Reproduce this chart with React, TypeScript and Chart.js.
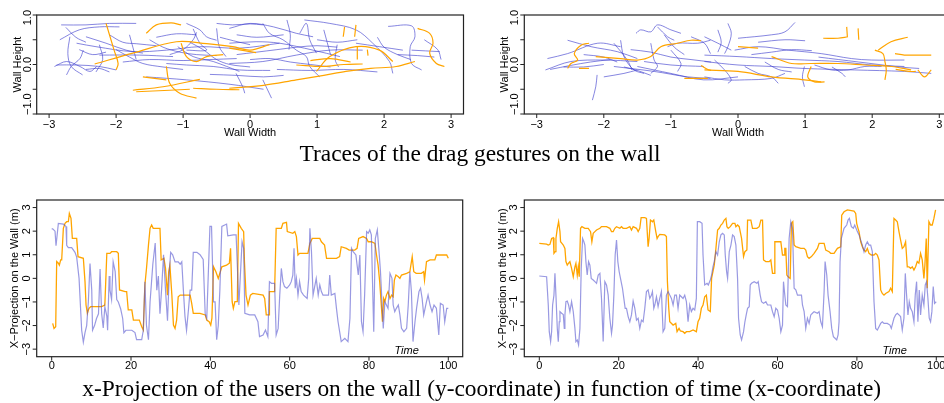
import { useEffect, useRef } from "react";
import { Chart, registerables } from "chart.js";
Chart.register(...registerables);

type Pt = [number, number];

// ---------- Top panels: drag gesture traces (Wall Width, Wall Height) ----------
const wallAOrange: Pt[][] = [
  [[-2.15, 0.83], [-2.03, 0.29], [-1.97, 0.02], [-2.0, -0.11]],
  [[-2.32, 0.01], [-1.75, 0.23], [-1.1, 0.46], [-0.65, 0.42], [-0.26, 0.36], [0.0, 0.29], [0.29, 0.4]],
  [[-1.75, -0.52], [-1.3, -0.45], [-0.75, -0.3]],
  [[-1.6, -0.25], [-1.25, -0.31]],
  [[-0.85, -0.48], [-0.5, -0.5], [-0.16, -0.51]],
  [[-0.31, -0.48], [0.2, -0.42], [0.69, -0.31], [1.1, -0.22], [1.43, -0.14], [1.8, -0.08], [2.18, -0.04], [2.46, 0.06]],
  [[-1.55, 0.63], [-1.4, 0.8], [-1.18, 0.84], [-1.03, 0.8]],
  [[-1.25, -0.04], [-1.2, -0.38], [-1.05, -0.58], [-0.8, -0.68]],
  [[-1.03, 0.43], [-0.95, 0.16], [-0.8, 0.06], [-0.65, 0.16], [-0.4, 0.2]],
  [[2.5, 0.73], [2.68, 0.63], [2.73, 0.43], [2.68, 0.23], [2.78, 0.02], [2.9, -0.04]],
  [[1.41, 0.76], [1.39, 0.56]],
  [[1.58, 0.8], [1.56, 0.56]],
  [[0.69, -0.01], [1.09, -0.04], [1.4, 0.0], [1.68, 0.01]],
  [[0.99, -0.14], [1.19, 0.16], [1.58, 0.36], [1.93, 0.29], [2.13, 0.06]],
  [[-0.31, 0.33], [0.09, 0.24]],
  [[0.9, 0.08], [1.2, 0.12], [1.5, 0.05]],
  [[-1.7, -0.55], [-1.2, -0.52], [-0.9, -0.5]],
  [[1.6, 0.36], [1.6, 0.1]],
  [[1.75, 0.3], [1.76, 0.18]],
];

const wallABlue: Pt[][] = [
  [[-2.82, 0.8], [-2.45, 0.8], [-2.1, 0.83], [-1.7, 0.83]],
  [[-2.84, 0.5], [-2.55, 0.7], [-2.25, 0.76], [-1.95, 0.76]],
  [[-2.69, 0.56], [-2.72, 0.22], [-2.67, -0.04], [-2.5, -0.21]],
  [[-2.89, -0.01], [-2.59, -0.01], [-2.25, -0.04], [-2.0, -0.11]],
  [[-2.59, 0.43], [-2.3, 0.36], [-1.75, 0.26], [-1.25, 0.29], [-0.75, 0.36], [-0.16, 0.33], [0.44, 0.43]],
  [[-2.45, 0.56], [-2.15, 0.43], [-1.85, 0.29], [-1.6, 0.23]],
  [[-1.55, -0.25], [-0.95, -0.31], [-0.3, -0.4], [0.2, -0.5]],
  [[-2.45, -0.1], [-2.25, -0.08], [-2.1, -0.15]],
  [[-0.95, 0.83], [-0.75, 0.7], [-0.65, 0.56], [-0.5, 0.49]],
  [[-0.5, 0.83], [-0.26, 0.8], [0.0, 0.82], [0.19, 0.8]],
  [[-0.5, 0.73], [-0.46, 0.36], [-0.36, 0.16]],
  [[-1.25, 0.02], [-0.95, -0.01], [-0.55, -0.04], [-0.16, -0.11], [0.3, -0.12]],
  [[-2.25, 0.19], [-1.65, 0.19], [-1.15, 0.16]],
  [[-0.85, 0.72], [-0.75, 0.43], [-0.65, 0.29], [-0.95, 0.29]],
  [[-1.08, 0.36], [-0.85, 0.16], [-0.55, 0.06], [-0.16, -0.14]],
  [[-0.31, 0.73], [0.0, 0.83], [0.35, 0.76], [0.69, 0.63], [0.94, 0.56]],
  [[0.19, 0.83], [0.29, 0.63], [0.49, 0.5], [0.69, 0.29], [0.84, 0.16], [0.89, -0.04], [1.04, -0.25]],
  [[0.81, 0.9], [1.19, 0.83], [1.58, 0.7], [1.83, 0.43], [2.08, 0.06], [2.13, -0.18]],
  [[1.58, 0.43], [1.93, 0.36], [2.28, 0.29]],
  [[2.06, 0.77], [2.41, 0.78], [2.46, 0.56], [2.39, 0.36], [2.41, 0.02], [2.56, -0.11]],
  [[2.41, 0.29], [2.83, 0.26]],
  [[-0.31, 0.02], [0.19, 0.06], [0.69, 0.19], [1.19, 0.29], [1.68, 0.29]],
  [[-0.31, 0.43], [0.09, 0.46], [0.44, 0.43], [0.94, 0.29], [1.34, 0.16]],
  [[-0.21, -0.18], [-0.11, -0.45], [-0.08, -0.58]],
  [[0.19, -0.31], [0.32, -0.68]],
  [[0.74, 0.63], [0.84, 0.83], [0.89, 0.5], [0.99, 0.23]],
  [[1.3, 0.4], [1.27, 0.1], [1.32, -0.05]],
  [[-2.92, -0.04], [-2.74, 0.06], [-2.54, -0.04], [-2.39, -0.14], [-2.29, -0.04]],
  [[-2.74, -0.21], [-2.67, -0.04], [-2.54, 0.12], [-2.49, 0.29]],
  [[-1.4, 0.55], [-1.1, 0.62], [-0.8, 0.6]],
  [[-1.9, 0.05], [-1.5, 0.1], [-1.0, 0.08], [-0.6, 0.1], [-0.2, 0.12]],
  [[0.4, -0.1], [0.9, -0.12], [1.4, -0.1], [1.9, -0.15]],
  [[2.2, 0.2], [2.5, 0.18], [2.75, 0.15]],
  [[-0.2, 0.6], [0.1, 0.55], [0.5, 0.6]],
  [[-1.8, 0.6], [-1.75, 0.35], [-1.7, 0.1]],
  [[-2.3, -0.15], [-2.2, 0.1], [-2.25, 0.4]],
  [[1.0, 0.5], [1.3, 0.45], [1.6, 0.5]],
  [[-2.75, 0.75], [-2.6, 0.55], [-2.45, 0.45]],
  [[-2.1, 0.6], [-1.9, 0.45], [-1.7, 0.42], [-1.4, 0.38]],
  [[-1.5, 0.5], [-1.3, 0.35], [-1.05, 0.25], [-0.8, 0.2], [-0.5, 0.18]],
  [[-0.9, 0.45], [-0.7, 0.3], [-0.5, 0.1], [-0.3, 0.0], [0.0, -0.05]],
  [[-0.2, 0.2], [0.1, 0.25], [0.4, 0.3], [0.7, 0.35], [1.0, 0.38], [1.3, 0.35]],
  [[0.0, 0.1], [0.3, 0.12], [0.6, 0.05], [0.9, 0.0], [1.2, -0.05]],
  [[0.55, 0.9], [0.6, 0.6], [0.58, 0.3]],
  [[1.1, 0.7], [1.15, 0.45], [1.2, 0.2]],
  [[1.9, 0.55], [2.0, 0.35], [2.2, 0.2], [2.4, 0.1]],
  [[-2.0, 0.3], [-1.8, 0.15], [-1.6, 0.02], [-1.3, -0.05], [-1.0, -0.1]],
  [[-1.2, 0.2], [-1.0, 0.3], [-0.85, 0.5], [-0.8, 0.65]],
  [[-0.6, -0.2], [-0.2, -0.22], [0.2, -0.25], [0.5, -0.22]],
  [[2.6, 0.5], [2.8, 0.3], [2.85, 0.1]],
  [[-2.55, 0.3], [-2.35, 0.2], [-2.15, 0.25]],
  [[-0.45, 0.55], [-0.25, 0.48], [0.0, 0.4]],
];

const wallBOrange: Pt[][] = [
  [[-2.22, 0.43], [-2.34, 0.39], [-2.44, 0.22], [-2.39, 0.09], [-2.49, 0.02], [-2.54, -0.08]],
  [[-2.37, -0.08], [-2.22, -0.08]],
  [[-2.12, 0.16], [-1.75, 0.12], [-1.5, 0.09], [-1.3, 0.16], [-1.15, 0.36], [-0.9, 0.43], [-0.7, 0.49], [-0.55, 0.48]],
  [[-0.55, -0.02], [-0.45, -0.1], [-0.4, -0.12]],
  [[-0.8, -0.28], [-0.45, -0.28]],
  [[-0.5, -0.11], [0.0, -0.14], [0.5, -0.25], [0.99, -0.31], [1.24, -0.35]],
  [[0.0, 0.36], [0.3, 0.33]],
  [[0.5, 0.16], [0.8, 0.02], [1.09, 0.02], [1.49, 0.02], [1.89, -0.01], [2.29, -0.04], [2.58, -0.11]],
  [[1.09, -0.04], [1.04, -0.25], [1.14, -0.35], [1.29, -0.35]],
  [[1.27, 0.53], [1.49, 0.53], [1.64, 0.56]],
  [[1.62, 0.76], [1.63, 0.56]],
  [[1.79, 0.73], [1.8, 0.5]],
  [[2.09, 0.29], [2.28, 0.46], [2.53, 0.55]],
  [[2.04, 0.29], [2.16, 0.22], [2.19, 0.06], [2.21, -0.11], [2.19, -0.31]],
  [[2.34, 0.22], [2.48, 0.19], [2.68, 0.19], [2.88, 0.19]],
  [[2.68, -0.11], [2.78, -0.25], [2.88, -0.11]],
  [[2.35, -0.1], [2.55, -0.14], [2.65, -0.14]],
];

const wallBBlue: Pt[][] = [
  [[-2.84, 0.12], [-2.54, 0.22], [-2.09, 0.43], [-1.75, 0.36]],
  [[-2.87, -0.11], [-2.49, 0.06], [-2.0, 0.09], [-1.5, 0.06]],
  [[-2.54, 0.49], [-2.19, 0.36], [-1.8, 0.26], [-1.5, 0.12]],
  [[-2.1, -0.21], [-2.12, -0.45], [-2.17, -0.72]],
  [[-2.0, -0.25], [-1.7, -0.18], [-1.5, -0.11]],
  [[-1.85, 0.43], [-1.65, 0.09], [-1.58, -0.11]],
  [[-1.75, 0.49], [-1.7, 0.16], [-1.55, -0.11], [-1.4, -0.18]],
  [[-1.52, 0.63], [-1.45, 0.7], [-1.3, 0.66], [-1.2, 0.8], [-1.0, 0.7], [-0.85, 0.63]],
  [[-1.2, 0.76], [-1.05, 0.56], [-0.95, 0.49]],
  [[-1.3, 0.43], [-1.25, 0.09], [-1.2, -0.04], [-1.3, -0.18]],
  [[-1.05, 0.36], [-0.9, 0.43], [-0.6, 0.43], [-0.41, 0.49]],
  [[-1.5, -0.04], [-1.0, -0.18], [-0.51, -0.31], [0.0, -0.25]],
  [[-1.85, -0.04], [-1.25, -0.14], [-0.75, -0.25], [-0.41, -0.28]],
  [[-1.0, 0.29], [-0.85, 0.02], [-0.9, -0.14]],
  [[-0.7, 0.56], [-0.5, 0.43], [-0.41, 0.22]],
  [[-1.4, 0.06], [-1.0, -0.01], [-0.51, -0.04]],
  [[-0.15, 0.83], [-0.1, 0.63], [-0.15, 0.36], [-0.2, 0.22]],
  [[0.0, 0.53], [0.5, 0.6], [0.7, 0.66], [0.85, 0.85]],
  [[-0.05, 0.29], [0.3, 0.36], [0.75, 0.29], [1.24, 0.22], [1.69, 0.12], [1.99, 0.09], [2.48, 0.09]],
  [[-0.5, 0.19], [0.0, 0.16], [0.5, 0.12], [0.99, 0.09], [1.49, 0.06], [1.99, -0.01], [2.48, -0.04]],
  [[-0.5, 0.06], [0.0, -0.01], [0.5, -0.04], [0.99, -0.08], [1.74, -0.11], [2.48, -0.14], [2.88, -0.18]],
  [[0.99, -0.04], [0.96, -0.25], [0.99, -0.45]],
  [[1.14, -0.01], [1.39, -0.11], [1.64, -0.11], [1.89, -0.04], [2.14, -0.04]],
  [[-0.5, -0.25], [-0.2, -0.31], [0.1, -0.31], [0.5, -0.28], [0.7, -0.18]],
  [[0.1, -0.04], [0.3, -0.18], [0.5, -0.25], [0.6, -0.38]],
  [[-0.5, 0.56], [-0.3, 0.43], [-0.1, 0.29]],
  [[-0.35, 0.09], [-0.2, -0.11], [-0.1, -0.31], [-0.15, -0.38]],
  [[-2.6, -0.05], [-2.3, -0.05], [-2.0, 0.0]],
  [[0.3, 0.45], [0.7, 0.5], [1.0, 0.48]],
  [[-2.8, -0.1], [-2.5, -0.02], [-2.2, 0.05], [-1.9, 0.1]],
  [[-1.6, 0.3], [-1.3, 0.25], [-1.0, 0.15], [-0.7, 0.1], [-0.4, 0.05]],
  [[-1.1, 0.6], [-0.95, 0.35], [-0.8, 0.2]],
  [[-0.3, 0.7], [-0.25, 0.45], [-0.3, 0.25]],
  [[0.2, 0.2], [0.5, 0.25], [0.8, 0.3], [1.1, 0.28]],
  [[1.2, 0.15], [1.5, 0.1], [1.8, 0.05], [2.1, 0.0], [2.4, -0.05], [2.7, -0.08]],
  [[1.4, -0.05], [1.55, -0.18], [1.6, -0.25]],
  [[-1.7, -0.05], [-1.5, -0.12], [-1.3, -0.22]],
  [[-2.3, 0.2], [-2.0, 0.15], [-1.8, 0.05]],
  [[0.4, 0.05], [0.6, -0.1], [0.8, -0.15]],
];

// ---------- Bottom panels: x-projection over time [time, metres] ----------
const timeA_Blue: Pt[] = [
  [0, 2.1], [0.25, 2.1], [0.84, 2.0], [1.09, 1.38], [1.68, 2.33], [2.94, 2.3], [3.61, 2.2], [3.78, 1.4], [4.2, 1.3], [5.04, 1.3], [5.88, 1.1], [6.3, 0.9], [6.9, 0], [7.56, -2.2], [7.98, -2.7], [8.4, -2.3], [8.82, -2.0], [9.24, -1.0], [9.66, 0.63], [10.1, -0.5], [10.3, -2.2], [10.8, -2.0], [11.3, -1.7], [11.8, -1.5], [12.2, 0.4], [12.6, -1.5], [13.0, -2.1], [13.4, -1.2], [13.9, -1.6], [14.1, -2.2], [14.5, 0.1], [14.7, -0.5], [15.1, -0.9], [15.5, 0.7], [16.0, 0.3], [16.4, -0.9], [16.8, -1.0], [17.4, -1.3], [17.9, -1.7], [18.2, -2.3], [18.7, -2.2], [20.2, -2.2], [21.0, -2.3], [21.4, -2.6], [22.7, -2.6], [23.1, -2.2], [23.5, -0.15], [23.9, -2.0], [24.4, -2.6], [24.8, -1.0], [25.5, 0.6], [26.1, 1.5], [26.5, -0.5], [26.9, 0.1], [27.3, -1.5], [27.7, -0.5], [28.2, 1.0], [28.7, -0.5], [29.2, -1.8], [29.7, 0.4], [30.0, 1.1], [30.5, 1.0], [31.1, 0.7], [31.9, 0.7], [32.4, 0.6], [32.8, 0.7], [33.2, -0.5], [33.6, -1.6], [34.0, -2.2], [34.5, -1.3], [34.9, -0.5], [35.3, -0.5], [35.7, 1.1], [36.6, 1.1], [37.4, 1.0], [38.2, 0.8], [38.7, -1.5], [39.1, -1.7], [39.9, 2.2], [40.3, 2.2], [40.8, -1.0], [41.2, -1.0], [41.6, -2.6], [42.0, -2.0], [42.4, -0.5], [42.9, 2.2], [44.1, 2.3], [44.4, 1.8], [45.8, 1.84], [46.5, 1.84], [47.2, -1.13], [48.0, 1.55], [48.4, 1.27], [48.7, -1.48], [49.9, -1.55], [51.2, -1.55], [51.6, -1.69], [52.0, -1.84], [52.4, -2.47], [53.3, -2.4], [53.9, -2.19], [54.5, -2.47], [54.9, -0.14], [55.4, -0.21], [56.2, -0.21], [56.6, -2.4], [57.1, -2.12], [57.5, -0.71], [57.9, 0.42], [58.3, -0.14], [58.7, -0.35], [59.3, -0.42], [60, -0.28], [60.4, -0.14], [60.8, 0.14], [61.1, 1.27], [61.4, -0.42], [61.7, 0], [62.1, -0.71], [62.5, -0.14], [62.9, -0.56], [63.5, -0.71], [64.4, -0.85], [64.8, 0], [65.1, 2.12], [65.5, 1.13], [65.9, -0.71], [66.7, 0], [67.2, -0.71], [67.6, -0.28], [68.0, -0.56], [68.4, -0.71], [69.8, -0.71], [70.1, 0.14], [70.5, -0.71], [71.4, -0.64], [71.8, -1.27], [72.2, -1.84], [73.0, -2.68], [73.9, -2.54], [74.7, -2.68], [75.2, -1.69], [75.6, 1.27], [76.0, 1.13], [76.7, 0.99], [77.3, 0.14], [77.7, 0.99], [78.1, -1.84], [78.5, -2.26], [78.9, -0.71], [79.4, 1.98], [79.8, 1.91], [80.2, 2.05], [80.6, 1.84], [81.2, -2.26], [81.6, 1.69], [82.1, 2.05], [82.6, 0.99], [82.9, 0.28], [83.6, -2.12], [84.0, -0.99], [84.4, -1.13], [84.8, -1.27], [85.3, 0.21], [85.8, 0], [86.1, -1.13], [86.5, -1.41], [86.9, -1.27], [87.4, -1.13], [87.8, -1.55], [88.2, -2.12], [88.8, -2.26], [89.5, -2.12], [89.9, -1.13], [90.3, 0.28], [90.7, -0.56], [91.1, -2.68], [91.6, -1.84], [92.0, -1.27], [92.6, -0.56], [93.0, -0.42], [93.4, -0.85], [93.8, -1.55], [94.5, -0.99], [94.9, -0.71], [95.4, -1.13], [95.9, -1.41], [96.4, -1.13], [97.0, -1.27], [97.6, -2.4], [98.0, -1.06], [98.7, -1.13], [99.1, -1.84], [99.6, -1.27], [100, -1.27],
];

const timeA_Orange: Pt[] = [
  [0.25, -1.91], [0.59, -2.12], [1.01, -2.05], [1.26, 0.71], [1.68, 0.64], [1.93, 0.56], [2.27, 0.78], [2.52, 0.78], [2.94, 2.12], [3.36, 2.33], [3.78, 2.4], [4.2, 2.4], [4.45, 2.75], [4.87, 2.54], [5.21, 1.69], [6.3, 1.69], [6.64, 0.92], [7.98, 0.85], [8.4, -0.14], [8.66, -1.13], [8.99, -1.48], [9.41, -1.27], [9.83, -1.2], [11.3, -1.2], [12.6, -1.2], [13.4, -1.13], [13.9, 1.06], [14.7, 1.06], [15.1, 1.13], [16.4, 1.13], [16.8, 1.06], [17.1, -0.49], [18.5, -0.56], [18.9, -0.56], [19.3, -1.34], [20.2, -1.34], [20.6, -1.77], [22.1, -1.77], [22.7, -2.05], [23.1, -2.19], [23.5, -0.28], [23.9, 0.42], [24.4, 1.41], [24.8, 2.12], [25.2, 2.26], [25.6, 2.12], [27.3, 2.12], [27.6, 0.78], [28.3, 0.85], [28.7, 0.42], [29.2, -0.71], [29.5, 0.28], [29.8, 0.56], [30.3, -0.71], [30.7, -1.98], [31.1, -2.12], [31.5, -1.77], [31.9, -0.78], [32.4, -0.71], [34.9, -0.71], [35.3, -1.06], [35.7, -1.48], [37.4, -1.48], [38.7, -1.55], [39.1, -1.77], [39.7, -1.84], [40.1, -1.98], [40.4, -1.69], [40.8, 0.49], [41.4, 0.28], [42.0, 0], [42.9, 0.49], [44.1, 0.56], [44.8, 0.64], [45.1, 1.27], [45.5, -0.99], [45.8, -1.27], [46.2, -0.99], [46.8, -0.99], [47.1, 2.33], [47.8, 2.12], [48.4, 1.98], [48.6, 0.71], [49.0, -0.71], [49.5, -1.13], [50.1, -0.71], [50.7, -0.64], [53.3, -0.71], [53.7, -0.85], [54.1, -1.55], [54.8, -1.55], [54.9, -0.56], [56.2, -0.56], [56.6, 2.12], [57.9, 2.12], [58.3, 2.33], [59.2, 2.37], [59.4, 1.98], [60.8, 1.91], [61.3, 1.98], [61.7, 1.77], [62.1, 0.99], [62.5, 1.06], [64.6, 1.06], [65.1, 1.48], [65.7, 1.69], [67.6, 1.69], [68.0, 1.55], [68.8, 1.41], [69.3, 0.85], [71.8, 0.85], [72.6, 0.92], [73.0, 1.34], [74.3, 1.27], [75.0, 1.2], [76.4, 1.2], [77.0, 1.27], [77.4, 1.69], [78.5, 1.77], [79.4, 1.69], [79.8, 1.55], [80.6, 1.55], [81.5, 1.48], [81.9, 0.99], [82.3, 0.56], [82.7, -0.14], [83.1, -1.13], [83.4, -1.84], [83.7, -0.85], [84.0, -0.99], [84.4, -0.71], [84.8, -0.56], [85.3, -0.85], [85.7, -0.71], [86.1, -0.78], [86.4, -0.07], [86.8, 0.14], [87.4, 0.07], [87.8, 0], [88.2, 0.14], [89.5, 0.21], [90.3, 0.28], [90.9, 0.92], [91.3, 0.28], [91.9, 0.21], [93.2, 0.21], [93.8, 0.28], [94.0, -0.07], [94.5, 0.71], [95.4, 0.78], [96.6, 0.78], [97.0, 0.99], [99.6, 0.99], [100, 0.85],
];

const timeB_Blue: Pt[] = [
  [0, 0.1], [1.84, 0.07], [2.01, -0.42], [2.26, -1.13], [2.51, -2.26], [2.85, -2.68], [3.1, -2.26], [3.35, -1.13], [3.69, -0.71], [3.94, 0.21], [4.19, -0.71], [4.53, -2.12], [4.78, -2.68], [5.03, -1.84], [5.2, -1.41], [5.62, -1.48], [6.04, -1.53], [6.29, -2.12], [6.45, -1.55], [6.71, -0.99], [7.04, -0.96], [7.38, -1.13], [7.71, -1.41], [8.13, -0.99], [8.55, -1.41], [8.97, -2.12], [9.22, -2.68], [9.56, -2.61], [9.89, -2.82], [10.23, -2.12], [10.56, 0.42], [10.9, 1.69], [11.23, 1.55], [11.48, 1.41], [11.74, 0.71], [12.07, 0.14], [12.41, 0.71], [12.74, 0.56], [13.08, 0], [13.58, -0.07], [14.0, -0.14], [14.42, -0.21], [14.84, 0.14], [15.26, 0.21], [15.67, -0.85], [16.09, -2.68], [16.51, -0.14], [16.93, -0.28], [17.35, -0.71], [17.77, -1.69], [18.19, -2.33], [18.44, -1.98], [18.78, -0.71], [19.11, 0.99], [19.45, 1.62], [19.78, 0.71], [20.12, 0.28], [20.45, 0], [20.95, -0.42], [21.29, -0.85], [21.63, -1.27], [21.96, -1.27], [22.38, -1.62], [22.8, -1.84], [23.22, -1.55], [23.64, -0.96], [24.06, -1.27], [24.48, -1.77], [24.9, -1.69], [25.31, -2.12], [25.73, -1.77], [26.15, -1.84], [26.57, -1.27], [26.99, -0.56], [27.41, -0.49], [27.83, -0.85], [28.25, -0.71], [28.5, -0.56], [28.84, -1.27], [29.09, -1.13], [29.51, -0.78], [29.92, -1.2], [30.34, -0.85], [30.76, -0.56], [31.18, -2.26], [31.6, -2.12], [32.02, -0.71], [32.44, -0.56], [32.86, -0.71], [33.28, -0.85], [33.7, -1.13], [34.12, -0.71], [34.54, -0.71], [34.95, -1.27], [35.37, -0.71], [35.79, -0.78], [36.21, -0.85], [36.63, -0.71], [37.05, -0.99], [37.47, -1.84], [37.89, -1.13], [38.31, -1.41], [38.73, -1.27], [39.15, -1.34], [39.56, -0.85], [39.82, 2.4], [40.4, 2.4], [40.99, 2.33], [41.24, 0.99], [41.66, -0.28], [42.25, -0.21], [42.57, -0.28], [43.07, -0.07], [43.4, 0.14], [43.74, 0.49], [44.07, 0.71], [44.49, 1.13], [44.91, 0.99], [45.33, 1.55], [45.75, 1.84], [46.17, 1.91], [46.59, 1.84], [46.84, 0.99], [47.18, 0.28], [47.43, 0], [47.85, 1.13], [48.27, 1.41], [48.68, 1.84], [49.1, 1.77], [49.52, 1.41], [49.94, 0], [50.19, -1.69], [50.61, -2.4], [50.95, -2.61], [51.45, -2.26], [51.79, -1.84], [52.12, -1.55], [52.46, -1.27], [52.88, -1.2], [53.13, -0.28], [53.46, -0.21], [54.13, -0.14], [54.8, -0.21], [55.14, -0.14], [55.64, -0.71], [55.98, -0.99], [56.48, -1.06], [57.07, -0.99], [57.49, -1.13], [58.32, -1.13], [58.74, -1.41], [59.16, -1.62], [59.58, -1.27], [60, -1.34], [60.42, -1.69], [60.84, -2.26], [61.26, -1.98], [61.51, -0.14], [61.84, -0.71], [62.1, -1.13], [62.51, -1.2], [62.93, 1.69], [63.35, 2.4], [63.77, 2.12], [64.19, -0.42], [64.61, -0.49], [65.03, -0.71], [65.45, -0.71], [66.04, -0.71], [66.29, -1.13], [66.71, -1.41], [67.12, -2.12], [67.54, -1.69], [67.96, -1.91], [68.38, -1.55], [68.8, -1.48], [69.22, -1.41], [70.06, -1.48], [70.48, -1.41], [70.9, -1.84], [71.32, -2.05], [71.74, -0.56], [71.99, 0.71], [72.41, 0.14], [72.74, -0.71], [73.24, -1.41], [73.66, -2.12], [74.08, -2.47], [74.5, -2.54], [74.92, -2.61], [75.26, -2.4], [75.51, -1.84], [75.76, 0.71], [76.09, 1.69], [76.76, 2.12], [77.44, 2.26], [77.77, 2.47], [78.11, 2.54], [78.61, 2.19], [79.11, 2.12], [79.45, 2.26], [79.78, 2.12], [80.12, 1.98], [80.54, 1.84], [80.96, 1.62], [81.37, 1.41], [81.79, 1.13], [82.21, 1.41], [82.63, 1.55], [83.05, 1.41], [83.47, 1.41], [83.89, 1.13], [84.31, -0.99], [84.73, -2.12], [85.15, -2.19], [85.57, -2.05], [85.99, -1.91], [86.4, -1.84], [86.82, -1.91], [87.66, -1.91], [88.33, -1.98], [88.67, -2.12], [89.0, -1.91], [89.34, -1.69], [89.76, -1.55], [90.18, -1.48], [90.6, -1.55], [91.01, -1.62], [91.43, -2.19], [91.85, -1.69], [92.19, 0.21], [92.52, -0.71], [92.86, -1.55], [93.19, -0.99], [93.53, -1.27], [93.95, -1.41], [94.37, -1.84], [94.7, -0.71], [95.04, -0.14], [95.37, -1.84], [95.71, -0.49], [96.04, -1.55], [96.46, -0.71], [96.88, -1.13], [97.22, -0.28], [97.55, -0.14], [97.89, -0.85], [98.22, -1.69], [98.56, -1.84], [98.89, -1.41], [99.23, -0.35], [99.56, -1.06], [99.98, -0.99],
];

const timeB_Orange: Pt[] = [
  [0, 1.48], [1.84, 1.45], [2.26, 1.41], [2.68, 1.44], [3.1, 1.69], [3.52, 1.72], [3.69, 1.06], [4.02, 1.13], [4.19, 1.69], [4.53, 2.12], [4.86, 2.4], [5.2, 1.98], [5.36, 1.55], [5.7, 1.48], [6.04, 1.41], [6.45, 1.27], [6.71, 0.71], [7.04, 0.56], [7.38, 0.64], [7.71, 0.71], [8.13, 0.42], [8.55, 0.07], [8.97, 0.49], [9.22, 0.64], [9.56, 0.14], [9.81, 0.49], [10.06, 0.07], [10.39, 2.12], [10.73, 2.19], [11.48, 2.12], [12.32, 2.12], [12.91, 1.98], [13.24, 1.55], [13.58, 1.91], [14.0, 1.98], [14.42, 2.05], [15.26, 2.12], [15.67, 2.19], [16.93, 2.19], [17.77, 2.12], [18.19, 1.98], [18.61, 1.98], [19.03, 2.12], [19.45, 2.19], [20.28, 2.12], [20.7, 2.19], [21.12, 2.12], [21.96, 2.12], [22.8, 2.19], [23.22, 2.05], [23.64, 2.19], [24.48, 2.12], [24.9, 1.98], [25.31, 2.12], [25.65, 2.57], [26.57, 2.57], [26.99, 2.54], [27.41, 1.34], [27.66, 1.69], [28.0, 2.47], [28.5, 2.4], [28.84, 2.47], [29.34, 1.98], [29.67, 1.69], [29.92, 1.77], [30.34, 1.86], [31.6, 1.84], [32.02, 1.77], [32.27, -0.14], [32.61, -1.27], [32.86, -1.84], [33.7, -1.98], [34.37, -1.91], [34.7, -2.26], [35.2, -2.12], [35.54, -2.23], [36.21, -2.26], [36.63, -2.33], [37.05, -2.26], [37.89, -2.26], [38.73, -2.19], [39.56, -2.26], [39.98, -1.84], [40.4, -1.69], [40.82, -1.27], [41.24, -1.13], [41.66, -0.78], [42.08, -0.71], [42.5, -1.34], [43.07, -1.41], [43.4, 0], [44.07, 0.56], [44.49, 1.27], [44.91, 2.05], [45.33, 2.12], [45.75, 2.26], [46.17, 2.33], [46.59, 2.47], [47.01, 2.54], [47.26, 2.19], [47.59, 2.12], [48.1, 2.19], [48.68, 2.33], [49.27, 2.33], [49.52, 2.19], [49.94, 2.26], [50.36, 2.19], [50.95, 1.69], [51.45, 0.92], [51.79, 1.13], [52.29, 1.2], [52.46, 2.47], [53.29, 2.47], [53.71, 2.12], [54.8, 2.12], [55.39, 2.19], [55.81, 2.47], [56.23, 2.47], [56.48, 0.78], [57.07, 0.71], [57.9, 0.71], [58.32, 0.78], [58.74, 0.21], [59.16, 0.21], [59.33, 1.55], [60.42, 1.55], [60.84, 1.55], [61.26, 0.99], [61.68, 0.99], [61.84, 1.27], [62.1, 1.27], [62.35, 0.14], [62.68, 0.07], [63.19, 0], [63.52, 2.33], [63.86, 2.4], [64.19, 1.41], [64.61, 1.34], [65.87, 1.27], [66.71, 1.27], [67.12, 1.2], [67.54, 0.92], [67.96, 0.85], [68.55, 0.92], [69.22, 1.06], [70.06, 1.27], [70.48, 1.48], [71.74, 1.48], [72.15, 1.2], [72.99, 1.13], [73.41, 1.06], [74.25, 1.06], [75.09, 1.27], [75.93, 1.34], [76.18, 2.68], [76.76, 2.82], [77.6, 2.9], [79.28, 2.85], [79.7, 2.75], [79.95, 2.33], [80.28, 2.12], [80.54, 1.98], [80.96, 1.55], [81.37, 1.34], [81.79, 1.2], [82.21, 1.13], [82.63, 1.27], [83.05, 1.06], [83.64, 0.99], [84.31, 0.99], [84.73, 1.06], [85.15, 0.99], [85.57, 0.78], [85.99, -0.49], [86.4, -0.64], [86.82, -0.71], [87.24, -0.64], [88.08, -0.56], [88.5, -0.42], [88.92, -0.56], [89.34, 2.54], [89.76, 2.47], [90.18, 2.4], [90.6, 1.98], [91.01, 1.62], [91.43, 1.27], [91.85, 1.34], [92.27, 1.55], [92.69, 0.49], [93.11, 0.49], [93.53, 0.42], [93.95, 0.49], [94.37, 0.35], [94.79, 0.49], [95.21, 0.71], [95.62, 0.64], [96.04, 1.06], [96.46, 0.78], [96.88, 0], [97.13, 0.56], [97.47, 1.69], [97.72, -0.42], [98.14, 2.4], [98.56, 2.26], [98.98, 2.26], [99.4, 2.54], [99.82, 2.9],
];

// ---------- Axes ----------
const wallXTicks = [-3, -2, -1, 0, 1, 2, 3];
const wallYTicks = [-1, -0.5, 0, 0.5, 1];
const wallYLabels = ["\u22121.0", "", "0.0", "", "1.0"];
const timeXTicks = [0, 20, 40, 60, 80, 100];
const timeYTicks = [-3, -2, -1, 0, 1, 2, 3];

const captionTop = "Traces of the drag gestures on the wall";
const captionBottom = "x-Projection of the users on the wall (y-coordinate) in function of time (x-coordinate)";

const W = 960;
const H = 403;
const BLUE_TOP = "rgba(60,60,205,0.62)";
const BLUE_BOT = "rgba(80,80,205,0.58)";
const ORANGE = "#FFA500";
const SANS = '"Liberation Sans", Arial, Helvetica, sans-serif';

const fmt = (v: number) => (v < 0 ? "\u2212" + Math.abs(v) : String(v));

const rAxes = {
  id: "rAxes",
  afterDraw(chart: any, _a: any, o: any) {
    const ctx = chart.ctx;
    const { left, right, top, bottom } = chart.chartArea;
    const xs = chart.scales.x;
    const ys = chart.scales.y;
    ctx.save();
    ctx.strokeStyle = "#222";
    ctx.fillStyle = "#000";
    ctx.lineWidth = 1.2;
    ctx.strokeRect(left, top, right - left, bottom - top);
    ctx.lineWidth = 1;
    ctx.font = `${o.fontSize}px ${SANS}`;
    ctx.textAlign = "center";
    ctx.textBaseline = "middle";
    o.xTicks.forEach((v: number, i: number) => {
      const px = xs.getPixelForValue(v);
      ctx.beginPath();
      ctx.moveTo(px, bottom);
      ctx.lineTo(px, bottom + o.tick);
      ctx.stroke();
      ctx.fillText(o.xLabels[i], px, bottom + o.xLabOff);
    });
    o.yTicks.forEach((v: number, i: number) => {
      const py = ys.getPixelForValue(v);
      ctx.beginPath();
      ctx.moveTo(left, py);
      ctx.lineTo(left - o.tick, py);
      ctx.stroke();
      const lab = o.yLabels[i];
      if (!lab) return;
      const w = ctx.measureText(lab).width;
      let cy = py;
      if (cy + w / 2 > bottom + 1) cy = bottom + 1 - w / 2;
      if (cy - w / 2 < top - 5) cy = top - 5 + w / 2;
      ctx.save();
      ctx.translate(left - o.yLabOff, cy);
      ctx.rotate(-Math.PI / 2);
      ctx.fillText(lab, 0, 0);
      ctx.restore();
    });
    if (o.xTitle) ctx.fillText(o.xTitle, xs.getPixelForValue(o.xTitleAt), bottom + o.xTitleOff);
    ctx.save();
    ctx.translate(left - o.yTitleOff, (top + bottom) / 2);
    ctx.rotate(-Math.PI / 2);
    ctx.fillText(o.yTitle, 0, 0);
    ctx.restore();
    if (o.timeLabel) {
      ctx.font = `italic ${o.fontSize}px ${SANS}`;
      ctx.fillText(o.timeLabel.text, xs.getPixelForValue(o.timeLabel.x), ys.getPixelForValue(o.timeLabel.y));
    }
    if (o.captions) {
      ctx.font = `23.4px "Liberation Serif", "Times New Roman", serif`;
      ctx.textBaseline = "alphabetic";
      o.captions.forEach((c: any) => ctx.fillText(c.text, c.x, c.y));
    }
    ctx.restore();
  },
};

function traceSets(traces: Pt[][], color: string, width: number, order: number) {
  return traces.map((tr) => ({
    data: tr.map(([x, y]) => ({ x, y })),
    borderColor: color,
    backgroundColor: color,
    borderWidth: width,
    pointRadius: 0,
    showLine: true,
    tension: 0.35,
    order,
  }));
}

function seriesSet(pts: Pt[], color: string, width: number, order: number) {
  return {
    data: pts.map(([x, y]) => ({ x, y })),
    borderColor: color,
    backgroundColor: color,
    borderWidth: width,
    pointRadius: 0,
    showLine: true,
    tension: 0,
    order,
  };
}

type Panel = {
  box: { left: number; top: number; right: number; bottom: number };
  x: [number, number];
  y: [number, number];
  datasets: any[];
  axes: any;
};

const wallAxes = (extra: any) => ({
  fontSize: 11,
  tick: 4,
  xTicks: wallXTicks,
  xLabels: wallXTicks.map(fmt),
  xLabOff: 10.5,
  yTicks: wallYTicks,
  yLabels: wallYLabels,
  yLabOff: 9,
  yTitle: "Wall Height",
  yTitleOff: 19,
  xTitle: "Wall Width",
  xTitleAt: 0,
  xTitleOff: 19,
  ...extra,
});

const timeAxes = (extra: any) => ({
  fontSize: 11,
  tick: 4,
  xTicks: timeXTicks,
  xLabels: timeXTicks.map(String),
  xLabOff: 9,
  yTicks: timeYTicks,
  yLabels: timeYTicks.map(fmt),
  yLabOff: 10,
  yTitle: "X\u2212Projection on the Wall (m)",
  yTitleOff: 21.5,
  timeLabel: { text: "Time", x: 89.5, y: -3.07 },
  ...extra,
});

const panels: Panel[] = [
  {
    box: { left: 36.7, top: 15, right: 463.5, bottom: 114 },
    x: [-3.185, 3.185],
    y: [-1, 1],
    datasets: [...traceSets(wallAOrange, ORANGE, 1.2, 0), ...traceSets(wallABlue, BLUE_TOP, 1, 1)],
    axes: wallAxes({
      captions: [
        { text: captionTop, x: 480, y: 161.3 },
        { text: captionBottom, x: 481.7, y: 396.3 },
      ],
    }),
  },
  {
    box: { left: 524.3, top: 15, right: 951.7, bottom: 114 },
    x: [-3.185, 3.185],
    y: [-1, 1],
    datasets: [...traceSets(wallBOrange, ORANGE, 1.2, 0), ...traceSets(wallBBlue, BLUE_TOP, 1, 1)],
    axes: wallAxes({}),
  },
  {
    box: { left: 36.7, top: 200, right: 462.7, bottom: 356.7 },
    x: [-3.78, 103.63],
    y: [-3.32, 3.32],
    datasets: [seriesSet(timeA_Blue, BLUE_BOT, 1.2, 0), seriesSet(timeA_Orange, ORANGE, 1.3, 1)],
    axes: timeAxes({}),
  },
  {
    box: { left: 524.3, top: 200, right: 950.7, bottom: 356.7 },
    x: [-3.78, 103.63],
    y: [-3.32, 3.32],
    datasets: [seriesSet(timeB_Blue, BLUE_BOT, 1.2, 0), seriesSet(timeB_Orange, ORANGE, 1.3, 1)],
    axes: timeAxes({}),
  },
];

function PanelChart({ p }: { p: Panel }) {
  const ref = useRef<HTMLCanvasElement | null>(null);
  useEffect(() => {
    if (!ref.current) return;
    const chart = new Chart(ref.current, {
      type: "scatter",
      data: { datasets: p.datasets },
      options: {
        animation: false,
        responsive: false,
        devicePixelRatio: 1,
        events: [],
        layout: {
          padding: { left: p.box.left, top: p.box.top, right: W - p.box.right, bottom: H - p.box.bottom },
        },
        scales: {
          x: { type: "linear", min: p.x[0], max: p.x[1], display: false },
          y: { type: "linear", min: p.y[0], max: p.y[1], display: false },
        },
        plugins: {
          legend: { display: false },
          tooltip: { enabled: false },
          rAxes: p.axes,
        } as any,
      },
      plugins: [rAxes as any],
    });
    return () => chart.destroy();
  }, [p]);
  return (
    <canvas
      ref={ref}
      width={W}
      height={H}
      style={{ position: "absolute", left: 0, top: 0, width: W, height: H }}
    />
  );
}

export default function App() {
  return (
    <div
      style={{
        position: "fixed",
        left: 0,
        top: 0,
        width: 944,
        height: 403,
        overflow: "hidden",
        background: "#fff",
      }}
    >
      {panels.map((p, i) => (
        <PanelChart key={i} p={p} />
      ))}
    </div>
  );
}
